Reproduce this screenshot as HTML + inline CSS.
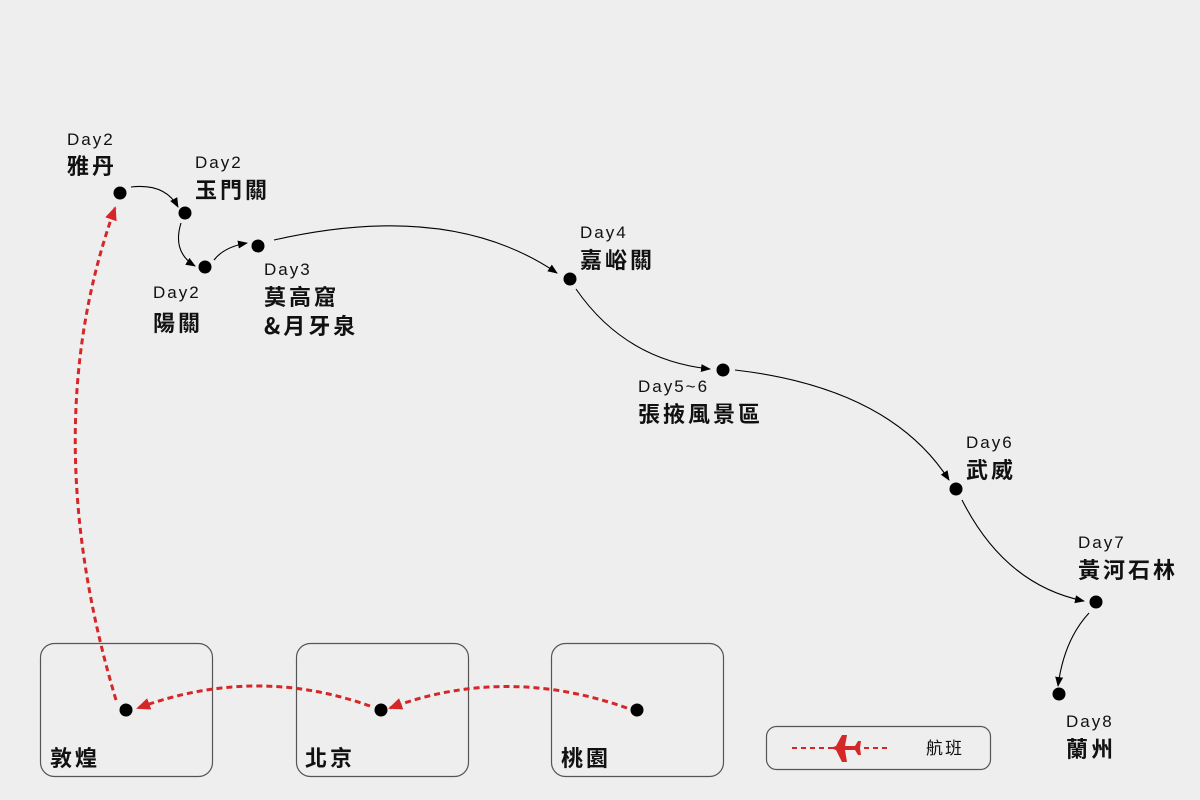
<!DOCTYPE html>
<html><head><meta charset="utf-8"><style>
html,body{margin:0;padding:0;background:#eeeeee;}
svg{display:block;}
.d{font-family:"Liberation Sans","Noto Sans CJK TC",sans-serif;font-size:17px;letter-spacing:2px;fill:#111;}
.n{font-family:"Noto Sans CJK TC","WenQuanYi Zen Hei",sans-serif;font-size:22px;font-weight:bold;letter-spacing:3px;fill:#111;}
</style></head><body>
<svg width="1200" height="800" viewBox="0 0 1200 800" xmlns="http://www.w3.org/2000/svg">
<defs>
<marker id="a" markerWidth="10" markerHeight="10" refX="9" refY="5" orient="auto" markerUnits="userSpaceOnUse"><path d="M0,1 L10,5 L0,9 z" fill="#000"/></marker>
<marker id="r" markerWidth="14" markerHeight="12" refX="12" refY="6" orient="auto" markerUnits="userSpaceOnUse"><path d="M0,0 L14,6 L0,12 z" fill="#d62728"/></marker>
</defs>
<rect width="1200" height="800" fill="#eeeeee"/>
<g fill="none" stroke="#555" stroke-width="1.2">
<rect x="40.5" y="643.5" width="172" height="133" rx="14"/>
<rect x="296.5" y="643.5" width="172" height="133" rx="14"/>
<rect x="551.5" y="643.5" width="172" height="133" rx="14"/>
<rect x="766.5" y="726.5" width="224" height="43" rx="10"/>
</g>
<g fill="none" stroke="#000" stroke-width="1.1" marker-end="url(#a)">
<path d="M131,187 Q165,183 178,207"/>
<path d="M181,223 Q172,252 195,266"/>
<path d="M214,260 Q224,247 247,243"/>
<path d="M274,240 Q450,200 557,273"/>
<path d="M576,289 Q625,360 710,369"/>
<path d="M735,370 Q890,388 949,480"/>
<path d="M962,500 Q1005,585 1084,601"/>
<path d="M1089,613 Q1064,640 1058,686"/>
</g>
<g fill="none" stroke="#d62728" stroke-width="3" stroke-dasharray="6,4" marker-end="url(#r)">
<path d="M116,700 Q35,430 115,208"/>
<path d="M370,706 Q255,665 138,708"/>
<path d="M627,708 Q505,665 390,708"/>
</g>
<g fill="#000">
<circle cx="120" cy="193" r="6.5"/><circle cx="185" cy="213" r="6.5"/>
<circle cx="205" cy="267" r="6.5"/><circle cx="258" cy="246" r="6.5"/>
<circle cx="570" cy="279" r="6.5"/><circle cx="723" cy="370" r="6.5"/>
<circle cx="956" cy="489" r="6.5"/><circle cx="1096" cy="602" r="6.5"/>
<circle cx="1059" cy="694" r="6.5"/>
<circle cx="126" cy="710" r="6.5"/><circle cx="381" cy="710" r="6.5"/><circle cx="637" cy="710" r="6.5"/>
</g>
<text class="d" x="67" y="145">Day2</text><text class="n" x="67" y="174">雅丹</text>
<text class="d" x="195" y="168">Day2</text><text class="n" x="195" y="198">玉門關</text>
<text class="d" x="153" y="298">Day2</text><text class="n" x="153" y="331">陽關</text>
<text class="d" x="264" y="275">Day3</text><text class="n" x="264" y="305">莫高窟</text><text class="n" x="264" y="334">&amp;月牙泉</text>
<text class="d" x="580" y="238">Day4</text><text class="n" x="580" y="268">嘉峪關</text>
<text class="d" x="638" y="392">Day5~6</text><text class="n" x="638" y="422">張掖風景區</text>
<text class="d" x="966" y="448">Day6</text><text class="n" x="966" y="478">武威</text>
<text class="d" x="1078" y="548">Day7</text><text class="n" x="1078" y="578">黃河石林</text>
<text class="d" x="1066" y="727">Day8</text><text class="n" x="1066" y="757">蘭州</text>
<text class="n" x="50" y="766">敦煌</text>
<text class="n" x="305" y="766">北京</text>
<text class="n" x="561" y="766">桃園</text>
<line x1="792" y1="748" x2="890" y2="748" stroke="#d62728" stroke-width="2" stroke-dasharray="5,4"/>
<path d="M830,748 L836,746 L842,735 L847,735 L845,746 L855,746 L858,741 L861,741 L860,748 L861,755 L858,755 L855,750 L845,750 L847,762 L842,762 L836,750 Z" fill="#d62728"/>
<text x="926" y="754" font-family="Noto Sans CJK TC,sans-serif" font-size="17" letter-spacing="2" fill="#111">航班</text>
</svg>
</body></html>
